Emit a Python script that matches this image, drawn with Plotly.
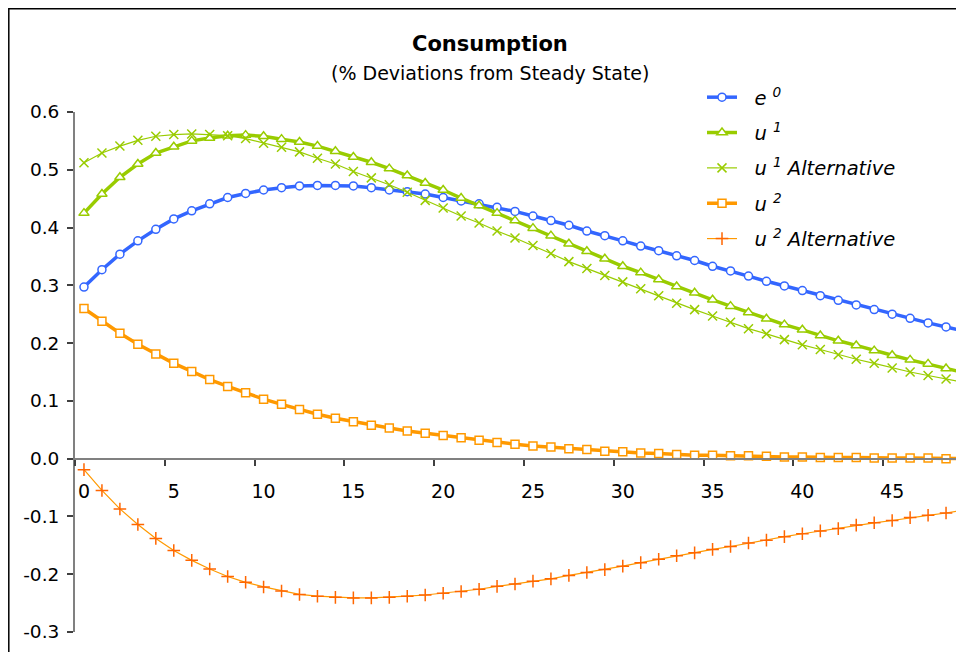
import plotly.graph_objects as go

periods = list(range(50))
e0 = [0.297,0.327,0.354,0.377,0.397,0.415,0.429,0.441,0.452,0.459,0.465,0.469,0.472,0.473,0.473,0.472,0.469,0.465,0.462,0.458,0.452,0.446,0.441,0.435,0.428,0.420,0.412,0.404,0.394,0.386,0.377,0.368,0.360,0.351,0.343,0.333,0.325,0.316,0.307,0.299,0.291,0.282,0.274,0.266,0.258,0.250,0.243,0.235,0.228,0.221]
u1 = [0.425,0.458,0.487,0.510,0.529,0.540,0.550,0.555,0.559,0.560,0.558,0.553,0.548,0.541,0.532,0.522,0.513,0.502,0.490,0.477,0.465,0.451,0.438,0.425,0.412,0.399,0.386,0.372,0.359,0.346,0.333,0.322,0.310,0.298,0.287,0.275,0.264,0.253,0.242,0.232,0.223,0.213,0.204,0.196,0.187,0.179,0.171,0.164,0.156,0.149]
u1_alt = [0.512,0.529,0.541,0.551,0.558,0.561,0.562,0.561,0.559,0.554,0.546,0.539,0.531,0.520,0.510,0.497,0.486,0.474,0.461,0.447,0.434,0.420,0.408,0.394,0.382,0.369,0.355,0.341,0.329,0.317,0.306,0.294,0.282,0.269,0.258,0.247,0.236,0.225,0.216,0.206,0.197,0.189,0.180,0.172,0.165,0.157,0.150,0.144,0.138,0.132]
u2 = [0.260,0.238,0.217,0.198,0.181,0.165,0.151,0.137,0.125,0.114,0.103,0.094,0.085,0.077,0.070,0.064,0.058,0.053,0.048,0.044,0.040,0.036,0.032,0.028,0.025,0.022,0.020,0.017,0.016,0.013,0.012,0.010,0.009,0.007,0.006,0.006,0.005,0.005,0.004,0.003,0.003,0.002,0.002,0.002,0.001,0.001,0.001,0.001,0.000,0.000]
u2_alt = [-0.019,-0.055,-0.087,-0.114,-0.138,-0.159,-0.176,-0.191,-0.204,-0.214,-0.222,-0.229,-0.235,-0.238,-0.240,-0.241,-0.241,-0.240,-0.238,-0.236,-0.233,-0.230,-0.226,-0.221,-0.217,-0.212,-0.208,-0.202,-0.197,-0.192,-0.186,-0.180,-0.174,-0.168,-0.163,-0.157,-0.152,-0.146,-0.141,-0.135,-0.130,-0.125,-0.121,-0.115,-0.111,-0.107,-0.102,-0.098,-0.094,-0.089]

x_tickvals = [0, 5, 10, 15, 20, 25, 30, 35, 40, 45]
x_ticktext = ["0", "5", "10", "15", "20", "25", "30", "35", "40", "45"]
x_boundaries = [-0.5, 4.5, 9.5, 14.5, 19.5, 24.5, 29.5, 34.5, 39.5, 44.5]
y_tickvals = [0.6, 0.5, 0.4, 0.3, 0.2, 0.1, 0.0, -0.1, -0.2, -0.3]
y_ticktext = ["0.6", "0.5", "0.4", "0.3", "0.2", "0.1", "0.0", "-0.1", "-0.2", "-0.3"]

BLUE = "#3366FF"
GREEN = "#99CC00"
ORANGE = "#FF9900"
RED_OR = "#FF6600"
PAD = "\u00a0\u00a0"

W, H = 956, 644
ML, MR, MT, MB = 67, 0, 104, 20
PW = W - ML - MR
PH = H - MT - MB


def px(xp):
    return (xp - ML) / PW


def py(yp):
    return (H - MB - yp) / PH


fig = go.Figure()
fig.add_trace(go.Scatter(x=periods, y=e0, mode="lines+markers", name=PAD + "<i>e <sup>0</sup></i>",
                         legendgroup="a",
                         line=dict(color=BLUE, width=3.5),
                         marker=dict(symbol="circle", size=8, color="white", line=dict(color=BLUE, width=1.5))))
fig.add_trace(go.Scatter(x=periods, y=u1, mode="lines+markers", name=PAD + "<i>u <sup>1</sup></i>",
                         legendgroup="b",
                         line=dict(color=GREEN, width=3.5),
                         marker=dict(symbol="triangle-up", size=9, color="white", line=dict(color=GREEN, width=1.5))))
fig.add_trace(go.Scatter(x=periods, y=u1_alt, mode="lines+markers", name=PAD + "<i>u <sup>1</sup> Alternative</i>",
                         legendgroup="c",
                         line=dict(color=GREEN, width=1.2),
                         marker=dict(symbol="x-thin", size=9, color=GREEN, line=dict(color=GREEN, width=1.5))))
fig.add_trace(go.Scatter(x=periods, y=u2, mode="lines+markers", name=PAD + "<i>u <sup>2</sup></i>",
                         legendgroup="d",
                         line=dict(color=ORANGE, width=3.5),
                         marker=dict(symbol="square", size=8, color="white", line=dict(color=ORANGE, width=1.5))))
fig.add_trace(go.Scatter(x=periods, y=u2_alt, mode="lines+markers", name=PAD + "<i>u <sup>2</sup> Alternative</i>",
                         legendgroup="e",
                         line=dict(color=ORANGE, width=1.2),
                         marker=dict(symbol="cross-thin", size=9, color=RED_OR, line=dict(color=RED_OR, width=1.5))))

FONT = "DejaVu Sans"

fig.update_layout(
    width=W, height=H,
    margin=dict(l=ML, r=MR, t=MT, b=MB, autoexpand=False),
    paper_bgcolor="white", plot_bgcolor="white",
    font=dict(family=FONT, size=19, color="black"),
    showlegend=True,
    legend=dict(x=px(694), y=py(70), xanchor="left", yanchor="top",
                font=dict(family=FONT, size=19.5, color="black"),
                traceorder="grouped", tracegroupgap=7,
                bgcolor="rgba(0,0,0,0)"),
    xaxis=dict(range=[-0.5, 49.0], anchor="free", position=1/3,
               showline=True, linecolor="#808080", linewidth=2,
               showgrid=False, zeroline=False,
               tickmode="array", tickvals=x_tickvals, ticktext=x_ticktext,
               ticks="outside", ticklen=16, tickcolor="rgba(0,0,0,0)",
               tickfont=dict(family=FONT, size=19, color="black"),
               minor=dict(tickmode="array", tickvals=x_boundaries, ticks="outside",
                          ticklen=6, tickwidth=1.5, tickcolor="#404040", showgrid=False)),
    yaxis=dict(range=[-0.3, 0.6], showline=True, linecolor="#808080", linewidth=2,
               showgrid=False, zeroline=False,
               tickmode="array", tickvals=y_tickvals, ticktext=y_ticktext,
               ticks="outside", ticklen=6, tickwidth=1.5, tickcolor="#404040",
               ticklabelstandoff=4,
               tickfont=dict(family=FONT, size=18.5, color="black")),
    annotations=[
        dict(text="<b>Consumption</b>", xref="paper", yref="paper",
             x=px(482), y=py(36), xanchor="center", yanchor="middle",
             showarrow=False, font=dict(family=FONT, size=21, color="black")),
        dict(text="(% Deviations from Steady State)", xref="paper", yref="paper",
             x=px(482), y=py(65), xanchor="center", yanchor="middle",
             showarrow=False, font=dict(family=FONT, size=19, color="black")),
    ],
    shapes=[
        dict(type="rect", xref="paper", yref="paper",
             x0=px(0.8), x1=1.1, y0=-0.2, y1=py(0.8),
             line=dict(color="black", width=1.5), fillcolor="rgba(0,0,0,0)", layer="below"),
    ],
)

fig.write_html("out.html")
